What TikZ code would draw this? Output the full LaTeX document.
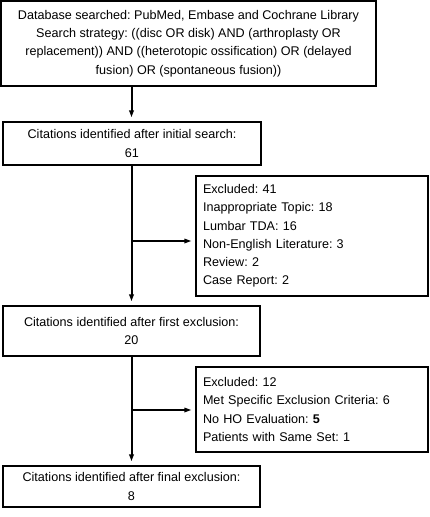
\documentclass[tikz,border=0pt]{standalone}
\usepackage{fontspec}
\setmainfont{Liberation Sans}
\usetikzlibrary{arrows.meta}
\frenchspacing
\begin{document}
\begin{tikzpicture}[x=1pt,y=-1pt,
  box/.style={draw,line width=1.3pt,inner sep=0pt,font=\fontsize{12.6}{18.2}\selectfont\frenchspacing},
  cbox/.style={box,align=center},
  lbox/.style={box,align=left,inner xsep=7pt},
  mainarrow/.style={line width=2pt,-{Triangle[length=7pt,width=4.5pt]},shorten >=4pt},
  sidearrow/.style={line width=1.5pt,-{Triangle[length=7pt,width=4.5pt]},shorten >=4pt}]
\useasboundingbox (0,0) rectangle (430,517);
\node[cbox,minimum width=375pt,minimum height=85pt] (b1) at (188.5,43.5)
  {Database searched: PubMed, Embase and Cochrane Library\\
   Search strategy: ((disc OR disk) AND (arthroplasty OR\\
   replacement)) AND ((heterotopic ossification) OR (delayed\\
   fusion) OR (spontaneous fusion))};
\node[cbox,minimum width=258pt,minimum height=43pt] (b2) at (132,143.5)
  {Citations identified after initial search:\\61};
\node[lbox,text width=218pt,minimum height=120pt] (b3) at (312,236)
  {Excluded: 41\\Inappropriate Topic: 18\\Lumbar TDA: 16\\Non-English Literature: 3\\Review: 2\\Case Report: 2};
\node[cbox,minimum width=257pt,minimum height=50pt] (b4) at (131.5,331)
  {Citations identified after first exclusion:\\20};
\node[lbox,text width=218pt,minimum height=85pt] (b5) at (312,409.5)
  {Excluded: 12\\Met Specific Exclusion Criteria: 6\\No HO Evaluation: \textbf{5}\\Patients with Same Set: 1};
\node[cbox,minimum width=257pt,minimum height=41pt] (b6) at (131.5,486.5)
  {Citations identified after final exclusion:\\8};
\coordinate (j1) at (131.5,241);
\coordinate (j2) at (131.5,410);
\draw[mainarrow] (b1.south -| b4.north) -- (b2.north -| b4.north);
\draw[mainarrow] (b2.south -| b4.north) -- (b4.north);
\draw[mainarrow] (b4.south) -- (b6.north);
\draw[sidearrow] (j1) -- (j1 -| b3.west);
\draw[sidearrow] (j2) -- (j2 -| b5.west);
\end{tikzpicture}
\end{document}
